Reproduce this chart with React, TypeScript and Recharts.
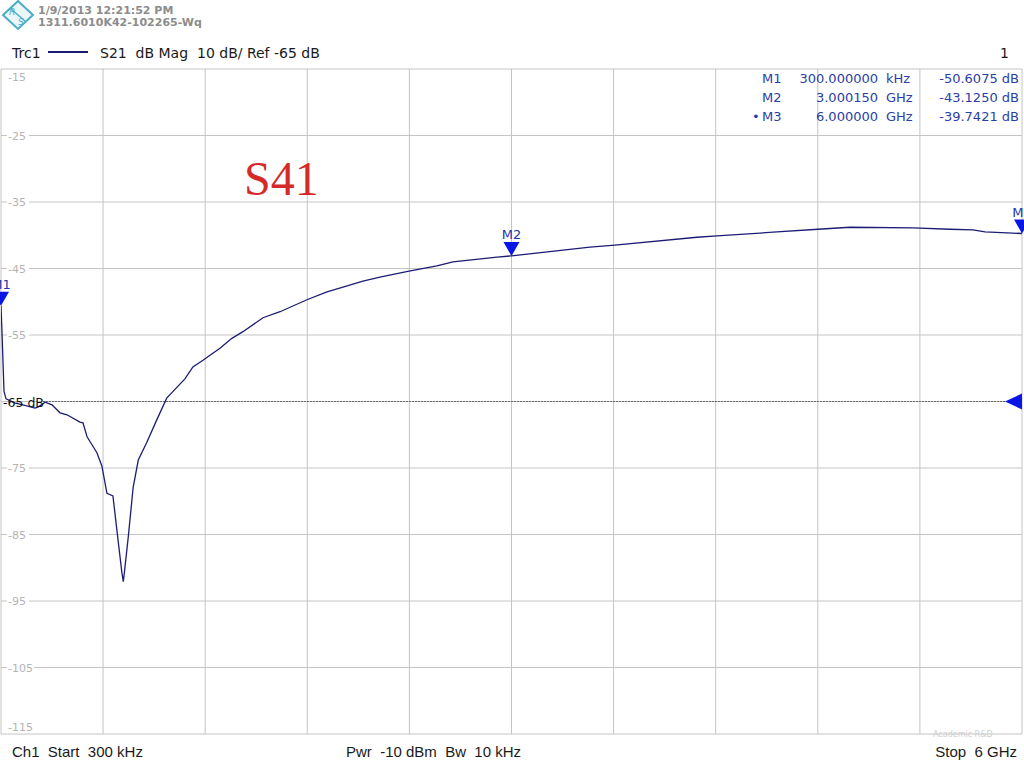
import React from 'react';
import {
  LineChart,
  Line,
  XAxis,
  YAxis,
  CartesianGrid,
  ReferenceLine,
  ReferenceDot,
} from 'recharts';

// ---- data (frequency in GHz, S41 magnitude in dB) ----
const freqGHz = [
  0.0003, 0.006, 0.018, 0.03, 0.08, 0.14, 0.2, 0.22, 0.26, 0.3, 0.347, 0.388,
  0.464, 0.482, 0.506, 0.535, 0.564, 0.593, 0.623, 0.658, 0.688, 0.711, 0.719,
  0.725, 0.748, 0.777, 0.807, 0.856, 0.915, 0.974, 1.003, 1.081, 1.128, 1.187,
  1.287, 1.357, 1.422, 1.54, 1.64, 1.798, 1.916, 2.01, 2.127, 2.227, 2.398,
  2.562, 2.656, 2.915, 3.0, 3.461, 3.608, 4.09, 4.208, 4.56, 4.801, 4.989,
  5.359, 5.577, 5.712, 5.783, 6.0,
];
const s41dB = [
  -50.61, -54.5, -63.5, -64.6, -65.2, -65.6, -66.0, -65.8, -65.1, -65.5, -66.7,
  -67.0, -68.1, -68.2, -70.3, -71.5, -72.7, -74.7, -78.8, -79.2, -85.8, -90.8,
  -92.1, -90.8, -85.4, -77.9, -73.8, -71.2, -67.8, -64.5, -63.7, -61.6, -59.8,
  -58.8, -57.0, -55.5, -54.5, -52.4, -51.5, -49.7, -48.5, -47.8, -46.9, -46.3,
  -45.4, -44.6, -44.0, -43.3, -43.1, -41.8, -41.5, -40.3, -40.1, -39.5, -39.1,
  -38.8, -38.9, -39.1, -39.2, -39.5, -39.74,
];

const xGridTicks = [0.0003, 0.6, 1.2, 1.8, 2.4, 3.0, 3.6, 4.2, 4.8, 5.4, 6.0];
const yTicks = [-115, -105, -95, -85, -75, -65, -55, -45, -35, -25, -15];

const markerNames = ['M1', 'M2', 'M3'];
const markerFreqs = [0.0003, 3.00015, 6.0];
const markerVals = [-50.6075, -43.125, -39.7421];
const markerFreqText = ['300.000000', '3.000150', '6.000000'];
const markerUnits = ['kHz', 'GHz', 'GHz'];
const markerValText = ['-50.6075 dB', '-43.1250 dB', '-39.7421 dB'];

const refLevel = -65;
const refLineStartGHz = 0.25;

const data = freqGHz.map((f, i) => ({ f, v: s41dB[i] }));

const FONT = '"DejaVu Sans", Verdana, sans-serif';
const TRACE = '#1c1c74';
const MARK_FILL = '#0a16e6';
const MARK_TEXT = '#2236b0';
const TABLE_TEXT = '#2b3ea8';

function YTick(props: any) {
  const { y, payload } = props;
  const v = payload.value;
  if (v === refLevel) return <g />;
  const dy = v === -15 ? 8 : v === -115 ? -7 : 0;
  const ty = y + dy;
  const w = String(v).length > 3 ? 27 : 22;
  return (
    <g>
      <rect x={7} y={ty - 6} width={w} height={12} fill="#fff" />
      <text x={8} y={ty + 4} fontSize={11} fontFamily={FONT} fill="#b4b4b4">
        {v}
      </text>
    </g>
  );
}

function MarkerShape(name: string) {
  return (p: any) => {
    const { cx, cy } = p;
    return (
      <g>
        <polygon
          points={`${cx - 8},${cy - 14} ${cx + 8},${cy - 14} ${cx},${cy}`}
          fill={MARK_FILL}
        />
        <text
          x={cx}
          y={cy - 17}
          textAnchor="middle"
          fontSize={13}
          fontFamily={FONT}
          fill={MARK_TEXT}
        >
          {name}
        </text>
      </g>
    );
  };
}

function RefArrow(p: any) {
  const { cx, cy } = p;
  return (
    <polygon
      points={`${cx - 17},${cy} ${cx},${cy - 8} ${cx},${cy + 8}`}
      fill={MARK_FILL}
    />
  );
}

function RefText(p: any) {
  const { cx, cy } = p;
  return (
    <text x={cx + 2} y={cy + 5} fontSize={12.5} fontFamily={FONT} fill="#111">
      -65 dB
    </text>
  );
}

function Overlay() {
  return (
    <svg
      width={1024}
      height={768}
      style={{ position: 'absolute', left: 0, top: 0, pointerEvents: 'none' }}
    >
      {/* logo */}
      <g>
        <polygon points="18,1 33,15 18,29 3,15" fill="#eaf6f9" stroke="#4aaec6" strokeWidth={2} />
        <line x1={10} y1={8} x2={26} y2={22} stroke="#4aaec6" strokeWidth={1.5} />
        <text x={9} y={15} fontSize={9} fontStyle="italic" fontFamily={FONT} fill="#4aaec6">R</text>
        <text x={18} y={25} fontSize={9} fontStyle="italic" fontFamily={FONT} fill="#4aaec6">S</text>
      </g>
      <text x={38} y={14} fontSize={11} fontWeight="bold" fontFamily={FONT} fill="#8c8c8c">
        1/9/2013 12:21:52 PM
      </text>
      <text x={38} y={26} fontSize={11} fontWeight="bold" fontFamily={FONT} fill="#8c8c8c">
        1311.6010K42-102265-Wq
      </text>

      {/* trace header */}
      <text x={12} y={58} fontSize={14} fontFamily={FONT} fill="#1a1a1a">Trc1</text>
      <line x1={48} y1={52} x2={88} y2={52} stroke={TRACE} strokeWidth={2} />
      <text x={100} y={58} fontSize={14} fontFamily={FONT} fill="#1a1a1a" style={{ whiteSpace: 'pre' }}>
        {'S21  dB Mag  10 dB/ Ref -65 dB'}
      </text>
      <text x={1000} y={58} fontSize={14} fontFamily={FONT} fill="#1a1a1a">1</text>

      {/* marker table */}
      {markerNames.map((n, i) => (
        <g key={n} fontSize={13} fontFamily={FONT} fill={TABLE_TEXT}>
          {i === 2 && <text x={752} y={83 + i * 19}>•</text>}
          <text x={762} y={83 + i * 19}>{n}</text>
          <text x={878} y={83 + i * 19} textAnchor="end">{markerFreqText[i]}</text>
          <text x={886} y={83 + i * 19}>{markerUnits[i]}</text>
          <text x={1019} y={83 + i * 19} textAnchor="end">{markerValText[i]}</text>
        </g>
      ))}

      {/* S41 annotation */}
      <text x={244} y={195} fontSize={48} fontFamily='"Liberation Serif", "Times New Roman", serif' fill="#d42a2a">
        S41
      </text>

      {/* footer */}
      <text x={12} y={757} fontSize={15} fontFamily='"Liberation Sans", Arial, sans-serif' fill="#1a1a1a" style={{ whiteSpace: 'pre' }}>
        {'Ch1  Start  300 kHz'}
      </text>
      <text x={346} y={757} fontSize={15} fontFamily='"Liberation Sans", Arial, sans-serif' fill="#1a1a1a" style={{ whiteSpace: 'pre' }}>
        {'Pwr  -10 dBm  Bw  10 kHz'}
      </text>
      <text x={1017} y={757} textAnchor="end" fontSize={15} fontFamily='"Liberation Sans", Arial, sans-serif' fill="#1a1a1a" style={{ whiteSpace: 'pre' }}>
        {'Stop  6 GHz'}
      </text>
      <text x={933} y={737} fontSize={8} fontFamily={FONT} fill="#cfcfcf">Academic R&amp;D</text>
    </svg>
  );
}

export default function App() {
  return (
    <div
      style={{
        position: 'absolute',
        left: 0,
        top: 0,
        width: 1024,
        height: 768,
        background: '#fff',
        overflow: 'hidden',
      }}
    >
      <LineChart
        width={1024}
        height={768}
        data={data}
        margin={{ top: 69, right: 2, bottom: 34, left: 1 }}
      >
        <CartesianGrid stroke="#c4c4c4" strokeWidth={1} />
        <XAxis
          dataKey="f"
          type="number"
          domain={[0.0003, 6]}
          ticks={xGridTicks}
          allowDataOverflow
          hide
        />
        <YAxis
          type="number"
          domain={[-115, -15]}
          ticks={yTicks}
          allowDataOverflow
          mirror
          axisLine={false}
          tickLine={false}
          tick={(p: any) => <YTick {...p} />}
        />
        <ReferenceLine
          segment={[
            { x: refLineStartGHz, y: refLevel },
            { x: 6, y: refLevel },
          ]}
          stroke="#111"
          strokeDasharray="1 2"
          strokeWidth={1}
        />
        <Line
          type="linear"
          dataKey="v"
          stroke={TRACE}
          strokeWidth={1.3}
          dot={false}
          isAnimationActive={false}
        />
        <ReferenceDot x={0.0003} y={refLevel} r={0} shape={RefText} />
        <ReferenceDot x={6} y={refLevel} r={0} shape={RefArrow} />
        {markerNames.map((n, i) => (
          <ReferenceDot
            key={n}
            x={markerFreqs[i]}
            y={markerVals[i]}
            r={0}
            shape={MarkerShape(n)}
          />
        ))}
      </LineChart>
      <Overlay />
    </div>
  );
}
